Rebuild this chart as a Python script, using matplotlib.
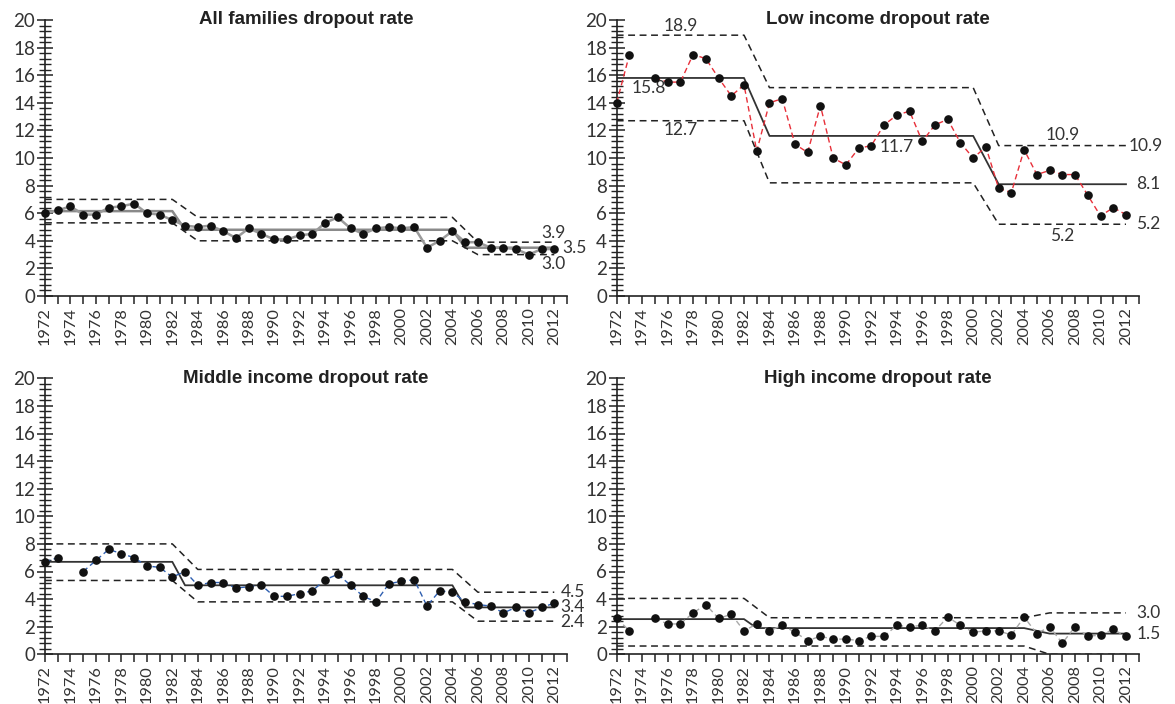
import numpy as np
import matplotlib
matplotlib.use("Agg")
import matplotlib.pyplot as plt
from matplotlib.ticker import MultipleLocator

plt.rcParams['font.family'] = ['Lato', 'DejaVu Sans']

years = np.arange(1972, 2013)
nan = np.nan

all_families = [6.0, 6.2, 6.5, 5.9, 5.9, 6.4, 6.5, 6.7, 6.0, 5.9, 5.5, 5.1, 5.0, 5.1,
                4.7, 4.2, 4.9, 4.5, 4.1, 4.1, 4.4, 4.5, 5.3, 5.7, 4.9, 4.5, 4.9, 5.0,
                4.9, 5.0, 3.5, 4.0, 4.7, 3.9, 3.9, 3.5, 3.5, 3.4, 3.0, 3.4, 3.4]
low_income = [14.0, 17.5, nan, 15.8, 15.5, 15.5, 17.5, 17.2, 15.8, 14.5, 15.3, 10.5, 14.0,
              14.3, 11.0, 10.4, 13.8, 10.0, 9.5, 10.7, 10.9, 12.4, 13.1, 13.4, 11.2, 12.4,
              12.8, 11.1, 10.0, 10.8, 7.8, 7.5, 10.6, 8.8, 9.1, 8.8, 8.8, 7.3, 5.8, 6.4, 5.9]
middle_income = [6.7, 7.0, nan, 6.0, 6.8, 7.6, 7.3, 7.0, 6.4, 6.3, 5.6, 6.0, 5.0, 5.2,
                 5.2, 4.8, 4.9, 5.0, 4.2, 4.2, 4.4, 4.6, 5.4, 5.8, 5.0, 4.2, 3.8, 5.1,
                 5.3, 5.4, 3.5, 4.6, 4.5, 3.8, 3.6, 3.5, 3.0, 3.4, 3.0, 3.4, 3.7]
high_income = [2.6, 1.7, nan, 2.6, 2.2, 2.2, 3.0, 3.6, 2.6, 2.9, 1.7, 2.2, 1.7, 2.1,
               1.6, 1.0, 1.3, 1.1, 1.1, 1.0, 1.3, 1.3, 2.1, 2.0, 2.1, 1.7, 2.7, 2.1,
               1.6, 1.7, 1.7, 1.4, 2.7, 1.5, 2.0, 0.8, 2.0, 1.3, 1.4, 1.8, 1.3]

# control chart segments: (start year, end year, value)
all_center = [(1972, 1982, 6.15), (1983, 2004, 4.8), (2005, 2012, 3.5)]
all_ucl = [(1972, 1982, 7.0), (1984, 2004, 5.7), (2006, 2012, 3.9)]
all_lcl = [(1972, 1982, 5.3), (1984, 2004, 4.0), (2006, 2012, 3.0)]

low_center = [(1972, 1982, 15.8), (1984, 2000, 11.6), (2002, 2012, 8.1)]
low_ucl = [(1972, 1982, 18.9), (1984, 2000, 15.1), (2002, 2012, 10.9)]
low_lcl = [(1972, 1982, 12.7), (1984, 2000, 8.2), (2002, 2012, 5.2)]

mid_center = [(1972, 1982, 6.7), (1983, 2004, 5.0), (2005, 2012, 3.4)]
mid_ucl = [(1972, 1982, 8.0), (1984, 2004, 6.15), (2006, 2012, 4.5)]
mid_lcl = [(1972, 1982, 5.35), (1984, 2004, 3.8), (2006, 2012, 2.4)]

high_center = [(1972, 1982, 2.55), (1983, 2004, 1.9), (2006, 2012, 1.5)]
high_ucl = [(1972, 1982, 4.05), (1984, 2004, 2.65), (2006, 2012, 3.0)]
high_lcl = [(1972, 1982, 0.6), (1984, 2004, 0.6), (2006, 2012, 0.0)]

# value labels: (text, x, y, ha)
all_labels = [("3.9", 2012.9, 4.55, "right"), ("3.5", 2012.6, 3.45, "left"),
              ("3.0", 2012.9, 2.3, "right")]
low_labels = [("18.9", 1977, 19.6, "center"), ("15.8", 1974.5, 15.1, "center"),
              ("12.7", 1977, 12.0, "center"), ("11.7", 1994, 10.8, "center"),
              ("10.9", 2007, 11.7, "center"), ("5.2", 2007, 4.35, "center"),
              ("10.9", 2012.2, 10.9, "left"), ("8.1", 2012.8, 8.1, "left"),
              ("5.2", 2012.8, 5.2, "left")]
mid_labels = [("4.5", 2012.5, 4.5, "left"), ("3.4", 2012.5, 3.4, "left"),
              ("2.4", 2012.5, 2.35, "left")]
high_labels = [("3.0", 2012.8, 3.0, "left"), ("1.5", 2012.8, 1.5, "left")]

panels = [
    ("All families dropout rate", all_families, all_center, all_ucl, all_lcl, all_labels,
     "#9a9a9a", "-", 1.8, "#8a8a8a", 1.8),
    ("Low income dropout rate", low_income, low_center, low_ucl, low_lcl, low_labels,
     "#e8303a", (0, (4, 2.5)), 1.0, "#333333", 1.3),
    ("Middle income dropout rate", middle_income, mid_center, mid_ucl, mid_lcl, mid_labels,
     "#2f5fb0", (0, (4, 2.5)), 1.0, "#333333", 1.3),
    ("High income dropout rate", high_income, high_center, high_ucl, high_lcl, high_labels,
     "#a8a8a8", (0, (4, 2.5)), 1.0, "#333333", 1.3),
]

W, H = 1175, 704
positions = [(45, 20, 296), (616.7, 20, 296), (45, 378.3, 654.3), (616.7, 378.3, 654.3)]
width_px = 522

fig = plt.figure(figsize=(W / 100, H / 100), dpi=100)


def seg_path(segs):
    xs, ys = [], []
    for a, b, v in segs:
        xs += [a, b]
        ys += [v, v]
    return xs, ys


for (left, top, bottom), p in zip(positions, panels):
    title, vals, center, ucl, lcl, labels, lc, ls, lw, cc, cw = p
    ax = fig.add_axes([left / W, 1 - bottom / H, width_px / W, (bottom - top) / H])
    ax.set_xlim(1972, 2013)
    ax.set_ylim(0, 20)

    x, y = seg_path(center)
    ax.plot(x, y, color=cc, lw=cw, zorder=2)
    for segs in (ucl, lcl):
        x, y = seg_path(segs)
        ax.plot(x, y, color="#222222", lw=1.1, ls=(0, (4.5, 3)), zorder=2)

    ax.plot(years, vals, color=lc, lw=lw, ls=ls, zorder=3, clip_on=False)
    ax.plot(years, vals, 'o', color="#111111", ms=5.2, zorder=4, clip_on=False)

    for t, tx, ty, ha in labels:
        ax.text(tx, ty, t, ha=ha, va="center", fontsize=12.5, color="#333333",
                clip_on=False)

    ax.text(0.5, 1.0, title, transform=ax.transAxes, ha="center", va="center",
            fontsize=13.5, fontweight="bold", color="#222222",
            family=["Liberation Sans", "DejaVu Sans"])

    for s in ("top", "right"):
        ax.spines[s].set_visible(False)
    for s in ("left", "bottom"):
        ax.spines[s].set_linewidth(1.2)
        ax.spines[s].set_color("#222222")

    ax.xaxis.set_minor_locator(MultipleLocator(1))
    ax.set_xticks(np.arange(1972, 2013, 2))
    ax.tick_params(axis="x", which="both", direction="out", length=6, width=1.1,
                   color="#222222", labelsize=11.8, labelrotation=90, pad=2,
                   labelcolor="#333333")
    ax.yaxis.set_major_locator(MultipleLocator(2))
    ax.yaxis.set_minor_locator(MultipleLocator(0.4))
    ax.tick_params(axis="y", which="major", direction="inout", length=12, width=1.1,
                   color="#222222", labelsize=13.5, pad=1, labelcolor="#333333")
    ax.tick_params(axis="y", which="minor", direction="inout", length=8, width=1.0,
                   color="#222222")
    ax.set_facecolor("none")

fig.savefig("out.png", dpi=100)
